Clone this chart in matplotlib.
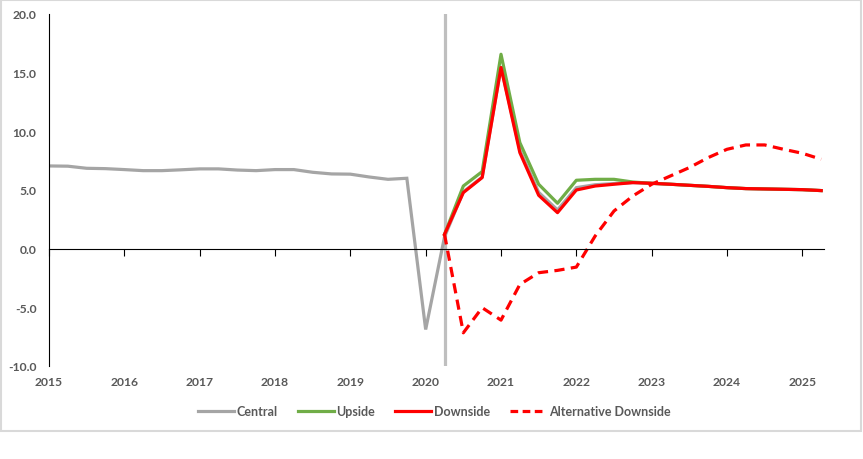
import numpy as np
import matplotlib
matplotlib.use("Agg")
import matplotlib.pyplot as plt
from matplotlib.lines import Line2D
from matplotlib.patches import Rectangle

plt.rcParams['font.family'] = ['Lato', 'DejaVu Sans']

# quarterly index: 0 = 2015 Q1 ... 41 = 2025 Q2
years = ['2015', '2016', '2017', '2018', '2019', '2020',
         '2021', '2022', '2023', '2024', '2025']
year_pos = [0, 4, 8, 12, 16, 20, 24, 28, 32, 36, 40]
forecast_start = 21  # 2020 Q2

central = [7.05, 7.03, 6.85, 6.82, 6.74, 6.65, 6.65, 6.72, 6.80, 6.80,
           6.70, 6.65, 6.74, 6.74, 6.51, 6.37, 6.35, 6.11, 5.91, 6.00,
           -6.89, 1.00, 4.85, 6.10, 15.50, 8.40, 4.80, 3.30, 5.20, 5.45,
           5.55, 5.63, 5.57, 5.49, 5.40, 5.31, 5.20, 5.12, 5.09, 5.06,
           5.03, 4.95]

upside_q = list(range(21, 42))
upside = [1.22, 5.34, 6.57, 16.57, 9.04, 5.49, 3.87, 5.83, 5.91, 5.91,
          5.68, 5.57, 5.49, 5.40, 5.31, 5.20, 5.12, 5.09, 5.06, 5.03, 4.95]
downside = [1.22, 4.78, 6.06, 15.44, 8.19, 4.55, 3.07, 5.00, 5.34, 5.49,
            5.63, 5.57, 5.49, 5.40, 5.31, 5.20, 5.12, 5.09, 5.06, 5.03, 4.95]
alt_downside = [1.22, -7.17, -5.03, -6.09, -3.05, -2.05, -1.85, -1.57, 1.08, 3.21,
                4.49, 5.49, 6.20, 6.91, 7.76, 8.47, 8.84, 8.84, 8.47, 8.13, 7.62]

c_central = '#a5a5a5'
c_up = '#70ad47'
c_down = '#ff0000'
lw = 2.3

fig = plt.figure(figsize=(8.63, 4.60), dpi=100)
ax = fig.add_axes([49 / 863, 1 - 367 / 460, 775 / 863, 352 / 460])

ax.plot(range(len(central)), central, color=c_central, lw=lw, solid_joinstyle='miter')
ax.plot(upside_q, upside, color=c_up, lw=lw)
ax.plot(upside_q, downside, color=c_down, lw=lw)
ax.plot(upside_q, alt_downside, color=c_down, lw=lw, dashes=(3.2, 2.0))
ax.axvline(forecast_start, color='#bfbfbf', lw=2.3, zorder=0)

ax.set_xlim(0, 41.15)
ax.set_ylim(-10, 20)
ax.set_yticks([-10, -5, 0, 5, 10, 15, 20])
ax.set_yticklabels([f'{v:.1f}' for v in [-10, -5, 0, 5, 10, 15, 20]])
ax.tick_params(axis='y', length=0, pad=9, labelsize=8.7, labelcolor='#595959')
for lbl in ax.get_yticklabels():
    lbl.set_fontweight('bold')

ax.spines['top'].set_visible(False)
ax.spines['right'].set_visible(False)
ax.spines['left'].set_color('black')
ax.spines['bottom'].set_position(('data', 0))
ax.spines['bottom'].set_color('black')
ax.set_xticks(year_pos)
ax.tick_params(axis='x', direction='out', length=5, color='black', labelbottom=False)

for p, y in zip(year_pos, years):
    ax.text(p, -0.045, y, transform=ax.get_xaxis_transform(), ha='center', va='center',
            fontsize=8.7, fontweight='bold', color='#595959')

handles = [Line2D([], [], color=c_central, lw=lw),
           Line2D([], [], color=c_up, lw=lw),
           Line2D([], [], color=c_down, lw=lw),
           Line2D([], [], color=c_down, lw=lw, dashes=(2.4, 1.4))]
fig.legend(handles, ['Central', 'Upside', 'Downside', 'Alternative Downside'],
           loc='center', bbox_to_anchor=(434 / 863, 1 - 412 / 460), ncol=4, frameon=False,
           handlelength=2.9, handletextpad=0.2, columnspacing=1.6,
           prop={'size': 9, 'weight': 'bold'}, labelcolor='#595959')

fig.patches.append(Rectangle((0.5 / 863, 1 - 432 / 460), 860 / 863, 431.5 / 460,
                             transform=fig.transFigure, fill=False,
                             edgecolor='#d9d9d9', lw=1.5))

fig.savefig('out.png', dpi=100)
